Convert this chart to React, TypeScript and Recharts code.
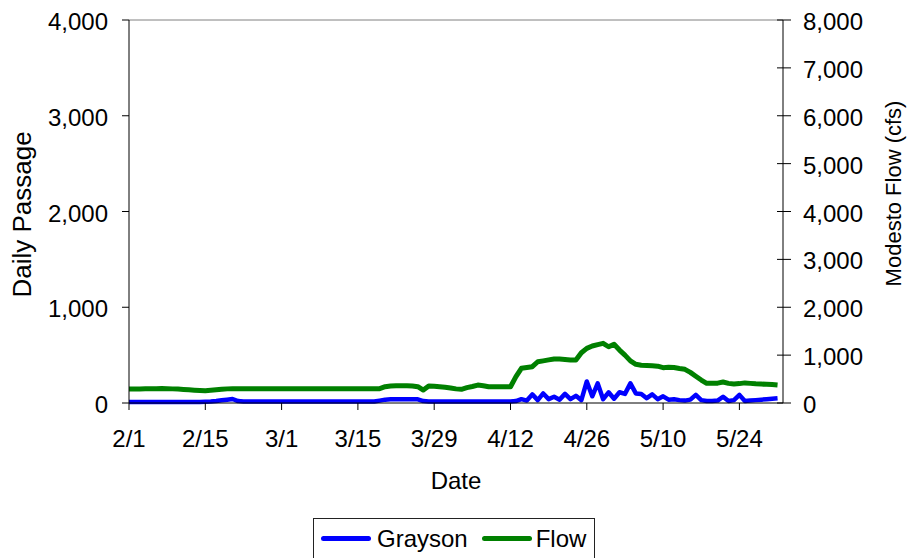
import React from 'react'
import { ComposedChart, Line, XAxis, YAxis, Legend, ReferenceLine, Label } from 'recharts'

// daily fish passage at Grayson, 2/1 .. 5/31 (one value per day)
const graysonPassage = [
  10, 10, 10, 10, 10, 10, 10, 10, 10, 10, 10, 10, 10, 10,
  12, 15, 20, 28, 35, 42, 20,
  15, 15, 15, 15, 15, 15, 15, 15, 15, 15, 15, 15, 15, 15, 15, 15, 15, 15, 15, 15, 15, 15, 15, 15, 15,
  25, 35, 38, 38, 38, 38, 38, 38, 20,
  15, 15, 15, 15, 15, 15, 15, 15, 15, 15, 15, 15, 15, 15, 15,
  15, 20, 40, 25, 90, 30, 100, 40, 65, 35, 95, 40, 75, 30,
  225, 70, 205, 40, 112, 45, 112, 95, 205, 100, 95, 50, 90, 40,
  70, 35, 40, 30, 25, 35, 85, 30, 20, 20, 25, 65, 20, 30,
  85, 20, 25, 30, 35, 40, 45, 50,
]

// Modesto flow (cfs), same days
const modestoFlow = [
  290, 292, 294, 296, 298, 300, 302,
  300, 295, 290, 283, 276, 268, 262, 257,
  265, 275, 285, 295, 300,
  300, 300, 300, 300, 300, 300, 300, 300, 300, 300, 300, 300, 300, 300,
  300, 300, 300, 300, 300, 300, 300, 300, 300, 300, 300, 300, 300,
  340, 355, 358, 360, 360, 355, 340,
  270, 355, 350, 340, 330, 315, 295, 286, 320, 345, 375, 360, 340, 338, 338, 340, 340,
  550, 724, 740, 758, 862, 880, 900, 918, 918, 910, 900, 897, 1050, 1142,
  1190, 1220, 1246, 1175, 1225, 1106, 1000, 880, 808, 790, 785, 779, 770, 737,
  745, 740, 720, 703, 640, 560, 480, 411, 410, 415, 438, 410, 397, 405,
  420, 410, 400, 395, 390, 385, 375,
]

const tickDays = [0, 14, 28, 42, 56, 70, 84, 98, 112]
const tickLabels = ['2/1', '2/15', '3/1', '3/15', '3/29', '4/12', '4/26', '5/10', '5/24']
const passageTicks = [0, 1000, 2000, 3000, 4000]
const flowTicks = [0, 1000, 2000, 3000, 4000, 5000, 6000, 7000, 8000]
const legendOrder = ['Grayson', 'Flow']

const chartData = graysonPassage.map((g, i) => ({ day: i, grayson: g, flow: modestoFlow[i] }))

const FONT = 'Arial, "Liberation Sans", sans-serif'
const fmt = (v: number) => v.toLocaleString('en-US')

const LeftTick = ({ x, y, payload }: any) => (
  <text x={x} y={y} dy={10} textAnchor="end" fontSize={24} fontFamily={FONT} fill="#000">
    {fmt(payload.value)}
  </text>
)

// right axis ticks cross the axis line in the original
const RightTick = ({ x, y, payload }: any) => (
  <g>
    <line x1={x - 26} x2={x - 12} y1={y} y2={y} stroke="#000" />
    <text x={x} y={y} dy={10} textAnchor="start" fontSize={24} fontFamily={FONT} fill="#000">
      {fmt(payload.value)}
    </text>
  </g>
)

const DateTick = ({ x, y, payload }: any) => (
  <text x={x} y={y} dy={17} textAnchor="middle" fontSize={24} fontFamily={FONT} fill="#000">
    {tickLabels[tickDays.indexOf(payload.value)]}
  </text>
)

const renderLegend = (props: any) => {
  const items = [...props.payload].sort((a: any, b: any) => legendOrder.indexOf(a.value) - legendOrder.indexOf(b.value))
  return (
    <div style={{ display: 'flex', justifyContent: 'center' }}>
      <div
        style={{
          width: 282,
          height: 40,
          boxSizing: 'border-box',
          borderTop: '1px solid #222',
          borderLeft: '1px solid #222',
          borderRight: '1px solid #222',
          display: 'flex',
          alignItems: 'center',
          paddingLeft: 7,
          fontFamily: FONT,
          fontSize: 24,
          color: '#000',
        }}
      >
        {items.map((p: any, i: number) => (
          <React.Fragment key={p.value}>
            <span
              style={{
                display: 'inline-block',
                width: 50,
                height: 5,
                borderRadius: 2.5,
                background: p.color,
                marginLeft: i === 0 ? 0 : 14,
                marginRight: i === 0 ? 6 : 4,
              }}
            />
            <span>{p.value}</span>
          </React.Fragment>
        ))}
      </div>
    </div>
  )
}

const App = () => {
  return (
    <div style={{ position: 'absolute', left: 0, top: 0, width: 908, height: 558, overflow: 'hidden', background: '#fff' }}>
      <ComposedChart width={908} height={558} data={chartData} margin={{ top: 20, right: 0, bottom: 0, left: 0 }}>
        <XAxis
          dataKey="day"
          type="number"
          domain={[0, 120]}
          ticks={tickDays}
          interval={0}
          height={115}
          tickSize={7}
          tickMargin={20}
          stroke="#000"
          tick={<DateTick />}
        >
          <Label
            content={({ viewBox }: any) => (
              <text x={viewBox.x + viewBox.width / 2} y={viewBox.y + 86} textAnchor="middle" fontSize={24} fontFamily={FONT} fill="#000">
                Date
              </text>
            )}
          />
        </XAxis>
        <YAxis
          yAxisId="left"
          domain={[0, 4000]}
          ticks={passageTicks}
          interval={0}
          width={129}
          tickSize={7}
          tickMargin={14}
          stroke="#000"
          tick={<LeftTick />}
        >
          <Label
            content={({ viewBox }: any) => (
              <text
                transform={`translate(${viewBox.x + 31},${viewBox.y + viewBox.height / 2 + 3}) rotate(-90)`}
                textAnchor="middle"
                fontSize={26}
                fontFamily={FONT}
                fill="#000"
              >
                Daily Passage
              </text>
            )}
          />
        </YAxis>
        <YAxis
          yAxisId="right"
          orientation="right"
          domain={[0, 8000]}
          ticks={flowTicks}
          interval={0}
          width={125}
          tickSize={8}
          tickMargin={12}
          tickLine={false}
          stroke="#000"
          tick={<RightTick />}
        >
          <Label
            content={({ viewBox }: any) => (
              <text
                transform={`translate(${viewBox.x + 118},${viewBox.y + viewBox.height / 2 - 18}) rotate(-90)`}
                textAnchor="middle"
                fontSize={22}
                fontFamily={FONT}
                fill="#000"
              >
                Modesto Flow (cfs)
              </text>
            )}
          />
        </YAxis>
        <ReferenceLine yAxisId="left" y={4000} stroke="#808080" />
        <Legend verticalAlign="bottom" content={renderLegend} />
        <Line
          yAxisId="left"
          dataKey="grayson"
          name="Grayson"
          type="linear"
          stroke="#0000ff"
          strokeWidth={4.5}
          strokeLinejoin="round"
          dot={false}
          isAnimationActive={false}
        />
        <Line
          yAxisId="right"
          dataKey="flow"
          name="Flow"
          type="linear"
          stroke="#008000"
          strokeWidth={5}
          strokeLinejoin="round"
          dot={false}
          isAnimationActive={false}
        />
      </ComposedChart>
    </div>
  )
}

export default App
